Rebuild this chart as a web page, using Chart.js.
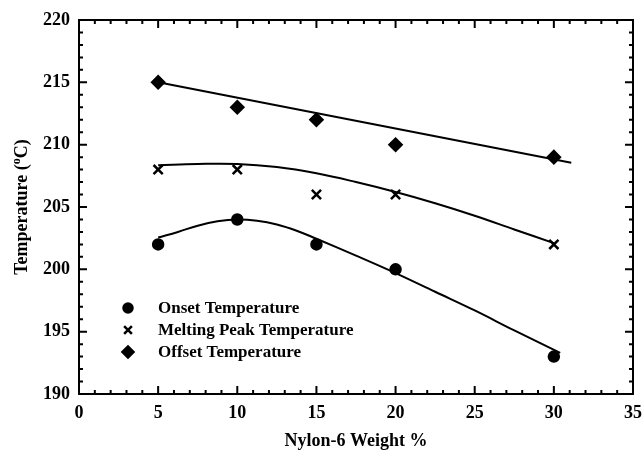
<!DOCTYPE html>
<html>
<head>
<meta charset="utf-8">
<script src="https://cdn.jsdelivr.net/npm/chart.js@4.4.1/dist/chart.umd.min.js"></script>
<style>
  html, body { margin: 0; padding: 0; background: #fff; }
  #wrap { width: 644px; height: 455px; }
</style>
</head>
<body>
<div id="wrap"><canvas id="meltChart" width="644" height="455"></canvas></div>
<script>
// measured points
const weightPct = [5, 10, 15, 20, 30];
const onsetTemp = [202, 204, 202, 200, 193];
const meltPeakTemp = [208, 208, 206, 206, 202];
const offsetTemp = [215, 213, 212, 210, 209];

// fitted curves
const onsetFitX = [5, 6.25, 7.5, 8.75, 10, 11.25, 12.5, 13.75, 15, 17.5, 20, 22.5, 25, 27.5, 30.4];
const onsetFitY = [202.55, 203.0, 203.5, 203.85, 204.0, 203.9, 203.6, 203.1, 202.45, 201.1, 199.7, 198.2, 196.7, 195.1, 193.3];
const meltFitX = [5, 7.5, 10, 12.5, 15, 17.5, 20, 22.5, 25, 27.5, 30];
const meltFitY = [208.35, 208.45, 208.45, 208.2, 207.7, 207.0, 206.2, 205.3, 204.3, 203.2, 202.1];
const offsetFitX = [5, 31.1];
const offsetFitY = [215, 208.55];

const xTicks = [0, 5, 10, 15, 20, 25, 30, 35];
const yTicks = [190, 195, 200, 205, 210, 215, 220];

const FONT = "'Liberation Serif', 'Times New Roman', serif";

function pts(xs, ys) {
    return xs.map((x, i) => ({ x: x, y: ys[i] }));
}

const markerSet = (label, ys, style, radius, legendRadius) => ({
    label: label,
    data: pts(weightPct, ys),
    showLine: false,
    pointStyle: style,
    pointRadius: radius,
    pointBorderWidth: 2.5,
    pointBackgroundColor: '#000',
    pointBorderColor: '#000',
    legendRadius: legendRadius
});

const fitSet = (xs, ys) => ({
    label: '',
    data: pts(xs, ys),
    showLine: true,
    borderColor: '#000',
    borderWidth: 2,
    pointRadius: 0,
    tension: 0.4,
    isFit: true
});

// inward ticks on all four sides + frame, legend and axis titles
const frameTicks = {
    id: 'frameTicks',
    afterDatasetsDraw(chart) {
        const { ctx, chartArea: a, scales: { x, y } } = chart;
        ctx.save();
        ctx.strokeStyle = '#000';
        ctx.lineWidth = 2;
        ctx.strokeRect(a.left, a.top, a.right - a.left, a.bottom - a.top);
        for (let v = 0; v <= 35; v++) {
            const px = x.getPixelForValue(v);
            const len = v % 5 === 0 ? 8 : 4;
            ctx.beginPath();
            ctx.moveTo(px, a.bottom); ctx.lineTo(px, a.bottom - len);
            ctx.moveTo(px, a.top); ctx.lineTo(px, a.top + len);
            ctx.stroke();
        }
        for (let v = 190; v <= 220; v++) {
            const py = y.getPixelForValue(v);
            const len = v % 5 === 0 ? 8 : 4;
            ctx.beginPath();
            ctx.moveTo(a.left, py); ctx.lineTo(a.left + len, py);
            ctx.moveTo(a.right, py); ctx.lineTo(a.right - len, py);
            ctx.stroke();
        }

        // legend inside the plot
        const rows = chart.data.datasets.filter(d => !d.isFit);
        ctx.font = 'bold 17px ' + FONT;
        ctx.fillStyle = '#000';
        ctx.textBaseline = 'middle';
        rows.forEach((d, i) => {
            const cy = a.bottom - 86 + i * 22;
            ctx.lineWidth = 2.5;
            Chart.helpers.drawPoint(ctx, {
                pointStyle: d.pointStyle,
                radius: d.legendRadius,
                borderWidth: 2.5
            }, a.left + 49, cy);
            ctx.fill();
            ctx.fillText(d.label, a.left + 79, cy + 1);
        });

        // axis titles
        ctx.font = 'bold 18px ' + FONT;
        ctx.textAlign = 'center';
        ctx.textBaseline = 'alphabetic';
        ctx.fillText('Nylon-6 Weight %', (a.left + a.right) / 2, 446);

        ctx.translate(27, (a.top + a.bottom) / 2);
        ctx.rotate(-Math.PI / 2);
        const p1 = 'Temperature (', p3 = 'C)';
        ctx.font = 'bold 18px ' + FONT;
        const w1 = ctx.measureText(p1).width, w3 = ctx.measureText(p3).width;
        ctx.font = 'bold 12px ' + FONT;
        const w2 = ctx.measureText('o').width;
        const sx = -(w1 + w2 + w3) / 2;
        ctx.textAlign = 'left';
        ctx.font = 'bold 18px ' + FONT;
        ctx.fillText(p1, sx, 0);
        ctx.font = 'bold 12px ' + FONT;
        ctx.fillText('o', sx + w1, -7);
        ctx.font = 'bold 18px ' + FONT;
        ctx.fillText(p3, sx + w1 + w2, 0);
        ctx.restore();
    }
};

const ctx = document.getElementById('meltChart').getContext('2d');
new Chart(ctx, {
    type: 'scatter',
    data: {
        datasets: [
            markerSet('Onset Temperature', onsetTemp, 'circle', 5, 4.5),
            markerSet('Melting Peak Temperature', meltPeakTemp, 'crossRot', 6.5, 5.5),
            markerSet('Offset Temperature', offsetTemp, 'rectRot', 6, 5.5),
            fitSet(onsetFitX, onsetFitY),
            fitSet(meltFitX, meltFitY),
            fitSet(offsetFitX, offsetFitY)
        ]
    },
    plugins: [frameTicks],
    options: {
        responsive: false,
        animation: false,
        layout: { padding: { top: 20, right: 11, left: 0, bottom: 0 } },
        plugins: {
            legend: { display: false },
            tooltip: { enabled: false }
        },
        scales: {
            x: {
                type: 'linear',
                min: 0,
                max: 35,
                afterBuildTicks: s => { s.ticks = xTicks.map(v => ({ value: v })); },
                afterFit: s => { s.height = 61; },
                grid: { display: false },
                border: { display: false },
                ticks: {
                    color: '#000',
                    padding: 1,
                    font: { family: FONT, size: 18, weight: 'bold' }
                }
            },
            y: {
                type: 'linear',
                min: 190,
                max: 220,
                afterBuildTicks: s => { s.ticks = yTicks.map(v => ({ value: v })); },
                afterFit: s => { s.width = 79; },
                grid: { display: false },
                border: { display: false },
                ticks: {
                    color: '#000',
                    padding: 1,
                    font: { family: FONT, size: 18, weight: 'bold' }
                }
            }
        }
    }
});
</script>
</body>
</html>
